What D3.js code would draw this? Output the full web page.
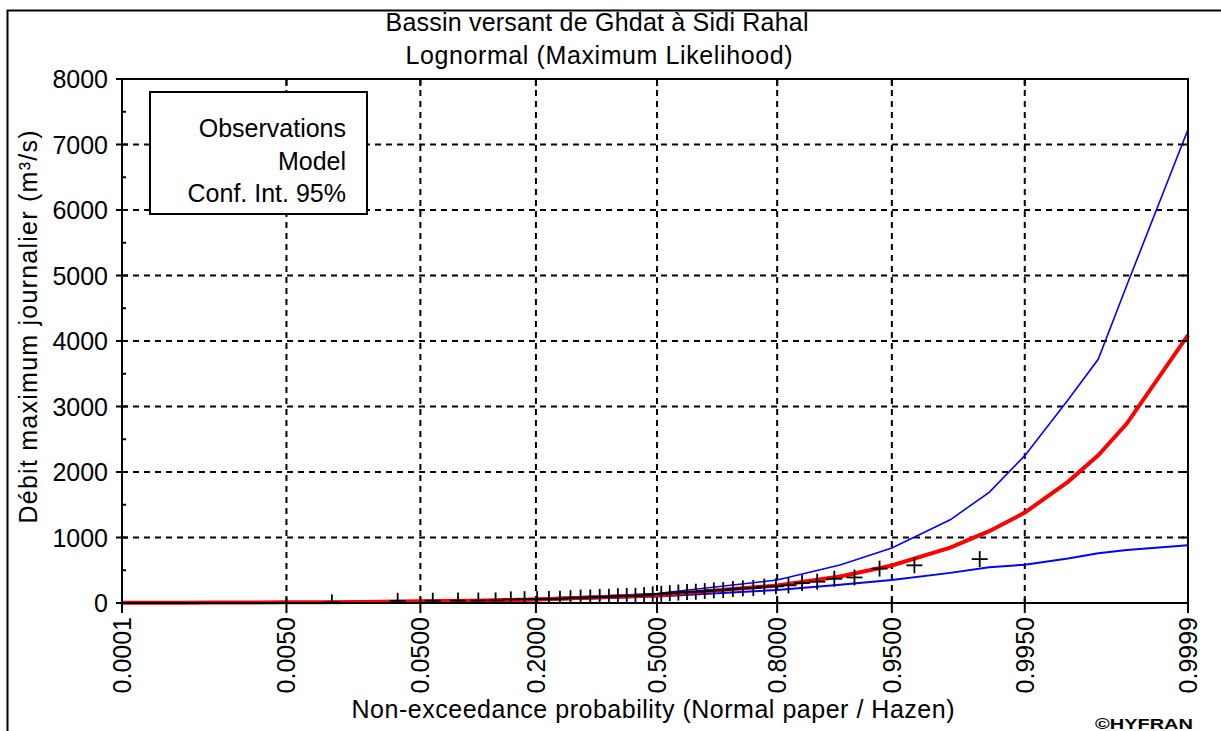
<!DOCTYPE html>
<html><head><meta charset="utf-8">
<script src="https://cdn.jsdelivr.net/npm/d3@7"></script>
<style>
html,body{margin:0;padding:0;background:#fff;}
svg text{font-family:"Liberation Sans",Arial,sans-serif;fill:#000;}
</style></head>
<body>
<svg id="chart" width="1221" height="731"></svg>
<script>
// ---- data ----
const titleLines = ["Bassin versant de Ghdat à Sidi Rahal", "Lognormal (Maximum Likelihood)"];
const xLabel = "Non-exceedance probability (Normal paper / Hazen)";
const yLabel = "Débit maximum journalier (m³/s)";
const legendItems = ["Observations", "Model", "Conf. Int. 95%"];

const probTicks = [0.0001, 0.005, 0.05, 0.2, 0.5, 0.8, 0.95, 0.995, 0.9999];
const probTickLabels = ["0.0001", "0.0050", "0.0500", "0.2000", "0.5000", "0.8000", "0.9500", "0.9950", "0.9999"];
const yTicks = [0, 1000, 2000, 3000, 4000, 5000, 6000, 7000, 8000];
const yMinorTicks = [500, 1500, 2500, 3500, 4500, 5500, 6500, 7500];

// probabilities at which the fitted model and its confidence bounds are drawn
const curveProb = [0.0001, 0.0005, 0.001, 0.002, 0.005, 0.01, 0.02, 0.05, 0.1, 0.2, 0.5,
                   0.8, 0.9, 0.95, 0.98, 0.99, 0.995, 0.998, 0.999, 0.9995, 0.9999];
const modelQ = [3.5, 5, 6.3, 7.7, 10.4, 13, 17, 25, 35, 54, 120,
                267, 406, 573, 846, 1096, 1380, 1850, 2256, 2740, 4090];
const upperQ = [8, 10, 12, 14, 17, 20, 25, 34, 45, 67, 144,
                351, 580, 840, 1270, 1690, 2250, 3100, 3720, 4850, 7230];
const lowerQ = [0, 1, 2, 3, 5, 7, 10, 16, 25, 42, 98,
                200, 280, 350, 460, 545, 585, 680, 760, 810, 880];

// observed annual maxima, sorted ascending (plotted with Hazen positions)
const obsQ = [10, 33, 35, 37, 38, 40, 55, 58, 60, 62, 66, 74, 82, 85, 93, 95, 103, 108, 110, 120,
              133, 140, 150, 160, 168, 172, 182, 193, 197, 213, 224, 228, 250, 255, 270, 305,
              325, 370, 390, 525, 575, 670];

// ---- helpers ----
function probit(p) { // inverse standard normal CDF (Acklam)
  const a=[-3.969683028665376e+01,2.209460984245205e+02,-2.759285104469687e+02,1.383577518672690e+02,-3.066479806614716e+01,2.506628277459239e+00];
  const b=[-5.447609879822406e+01,1.615858368580409e+02,-1.556989798598866e+02,6.680131188771972e+01,-1.328068155288572e+01];
  const c=[-7.784894002430293e-03,-3.223964580411365e-01,-2.400758277161838e+00,-2.549732539343734e+00,4.374664141464968e+00,2.938163982698783e+00];
  const d=[7.784695709041462e-03,3.224671290700398e-01,2.445134137142996e+00,3.754408661907416e+00];
  const pl=0.02425, ph=1-pl; let q,r;
  if(p<pl){q=Math.sqrt(-2*Math.log(p));return (((((c[0]*q+c[1])*q+c[2])*q+c[3])*q+c[4])*q+c[5])/((((d[0]*q+d[1])*q+d[2])*q+d[3])*q+1);}
  if(p<=ph){q=p-0.5;r=q*q;return (((((a[0]*r+a[1])*r+a[2])*r+a[3])*r+a[4])*r+a[5])*q/(((((b[0]*r+b[1])*r+b[2])*r+b[3])*r+b[4])*r+1);}
  q=Math.sqrt(-2*Math.log(1-p));return -(((((c[0]*q+c[1])*q+c[2])*q+c[3])*q+c[4])*q+c[5])/((((d[0]*q+d[1])*q+d[2])*q+d[3])*q+1);
}

const L = 122, R = 1188, T = 79, B = 603, MID = 657;
const zScale = d3.scaleLinear().domain([probit(0.0001), 0, probit(0.9999)]).range([L, MID, R]);
const x = p => zScale(probit(p));
const y = d3.scaleLinear().domain([0, 8000]).range([B, T]);

const svg = d3.select("#chart");

// outer frame (left + top edges visible)
svg.append("path").attr("d", "M7.5,731 V10.5 H1221").attr("fill","none").attr("stroke","#000").attr("stroke-width",2);

// titles
svg.append("text").attr("x", 597).attr("y", 31).attr("text-anchor","middle").style("font-size","25px")
   .attr("textLength", 423).attr("lengthAdjust","spacing").text(titleLines[0]);
svg.append("text").attr("x", 599).attr("y", 64).attr("text-anchor","middle").style("font-size","25px")
   .attr("textLength", 387).attr("lengthAdjust","spacing").text(titleLines[1]);

// grid
const grid = svg.append("g").attr("stroke","#000").attr("stroke-width",2).attr("stroke-dasharray","6,5").attr("fill","none");
grid.selectAll("line.gy").data(yTicks.filter(v => v > 0 && v < 8000)).join("line")
  .attr("x1", L).attr("x2", R).attr("y1", d => y(d)).attr("y2", d => y(d));
grid.selectAll("line.gx").data(probTicks.slice(1, -1)).join("line")
  .attr("x1", d => x(d)).attr("x2", d => x(d)).attr("y1", T).attr("y2", B);

// legend
const lg = svg.append("g");
lg.append("rect").attr("x",150).attr("y",92).attr("width",217).attr("height",122)
  .attr("fill","#fff").attr("stroke","#000").attr("stroke-width",2);
lg.selectAll("text").data(legendItems).join("text")
  .attr("x",346).attr("y",(d,i)=>137+i*32.5).attr("text-anchor","end").style("font-size","25px").text(d=>d);

// curves
const line = d3.line().x((d,i)=>x(curveProb[i])).y(d=>y(d));
svg.append("path").datum(upperQ).attr("d", line).attr("fill","none").attr("stroke","#0000ff").attr("stroke-width",1.6);
svg.append("path").datum(lowerQ).attr("d", line).attr("fill","none").attr("stroke","#0000ff").attr("stroke-width",2);
svg.append("path").datum(modelQ).attr("d", line).attr("fill","none").attr("stroke","#ff0000").attr("stroke-width",4);

// observations (Hazen plotting positions)
const n = obsQ.length;
svg.append("clipPath").attr("id","plotclip").append("rect").attr("x",L).attr("y",T).attr("width",R-L).attr("height",B-T);
const obs = svg.append("g").attr("clip-path","url(#plotclip)").attr("stroke","#000").attr("stroke-width",1.8);
obsQ.forEach((v,i) => {
  const px = x((i + 0.5) / n), py = y(v), s = 8;
  obs.append("line").attr("x1",px-s).attr("x2",px+s).attr("y1",py).attr("y2",py);
  obs.append("line").attr("x1",px).attr("x2",px).attr("y1",py-s).attr("y2",py+s);
});

// plot border
svg.append("rect").attr("x",L).attr("y",T).attr("width",R-L).attr("height",B-T)
  .attr("fill","none").attr("stroke","#000").attr("stroke-width",2);

// axis ticks + labels
const ax = svg.append("g").attr("stroke","#000").attr("stroke-width",2);
yTicks.forEach(v => {
  ax.append("line").attr("x1",L-6).attr("x2",L+6).attr("y1",y(v)).attr("y2",y(v));
  ax.append("line").attr("x1",R-6).attr("x2",R).attr("y1",y(v)).attr("y2",y(v));
});
yMinorTicks.forEach(v => {
  ax.append("line").attr("x1",L).attr("x2",L+4).attr("y1",y(v)).attr("y2",y(v));
});
probTicks.forEach(p => {
  ax.append("line").attr("x1",x(p)).attr("x2",x(p)).attr("y1",B-5).attr("y2",B+10);
  ax.append("line").attr("x1",x(p)).attr("x2",x(p)).attr("y1",T).attr("y2",T+7);
});
svg.selectAll("text.yt").data(yTicks).join("text").attr("class","yt")
  .attr("x",108).attr("y",d=>y(d)+9).attr("text-anchor","end").style("font-size","25px").text(d=>d);
svg.selectAll("text.xt").data(probTicks).join("text").attr("class","xt")
  .attr("transform",(d)=>`translate(${x(d)+9},617) rotate(-90)`).attr("text-anchor","end")
  .style("font-size","25px").text((d,i)=>probTickLabels[i]);

// axis titles
svg.append("text").attr("transform","translate(37,327) rotate(-90)").attr("text-anchor","middle")
  .style("font-size","25px").attr("textLength",393).attr("lengthAdjust","spacing").text(yLabel);
svg.append("text").attr("x",653).attr("y",718).attr("text-anchor","middle").style("font-size","25px")
  .attr("textLength",603).attr("lengthAdjust","spacing").text(xLabel);

// copyright
svg.append("text").attr("x",1095).attr("y",729).style("font-size","15px").style("font-weight","bold")
  .attr("textLength",98).attr("lengthAdjust","spacingAndGlyphs").text("©HYFRAN");
</script>
</body></html>
